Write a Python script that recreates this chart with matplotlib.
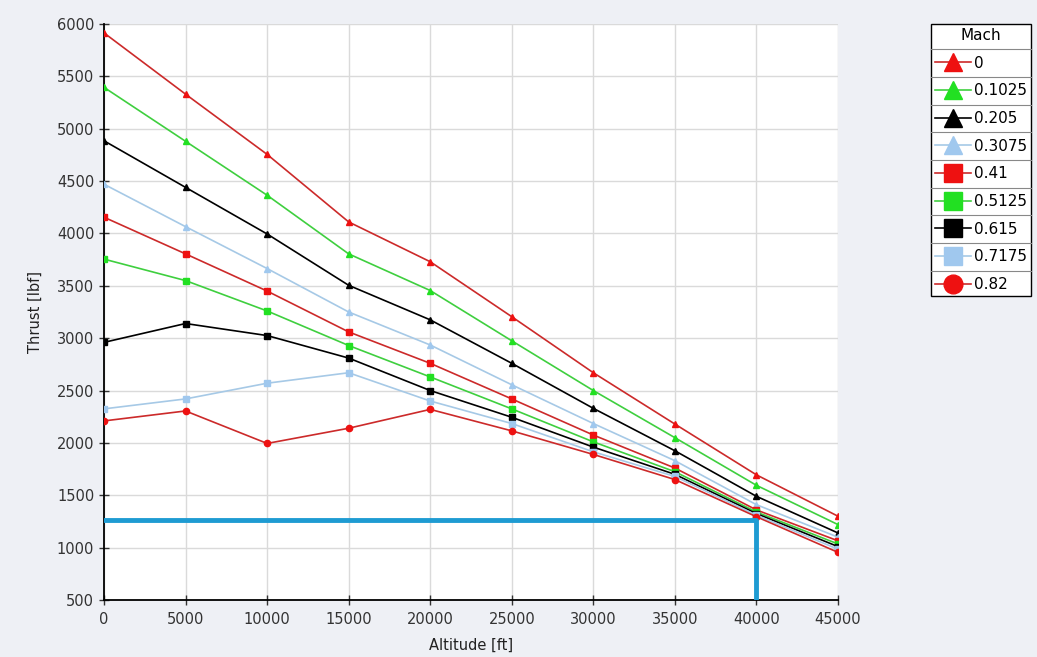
import matplotlib
matplotlib.use('Agg')
import matplotlib.pyplot as plt
from matplotlib.lines import Line2D

# altitude [ft]
altitude = [0, 5000, 10000, 15000, 20000, 25000, 30000, 35000, 40000, 45000]

# thrust [lbf] per Mach number
mach_0 = [5915, 5330, 4755, 4110, 3730, 3205, 2670, 2180, 1695, 1300]
mach_01025 = [5395, 4880, 4365, 3805, 3455, 2975, 2500, 2050, 1595, 1220]
mach_0205 = [4885, 4440, 3995, 3505, 3175, 2760, 2330, 1925, 1490, 1140]
mach_03075 = [4470, 4065, 3665, 3250, 2935, 2555, 2185, 1830, 1410, 1100]
mach_041 = [4155, 3805, 3450, 3060, 2760, 2420, 2075, 1760, 1360, 1065]
mach_05125 = [3755, 3550, 3260, 2930, 2630, 2325, 2010, 1725, 1340, 1035]
mach_0615 = [2960, 3140, 3025, 2810, 2500, 2245, 1960, 1700, 1325, 1010]
mach_07175 = [2325, 2420, 2570, 2670, 2400, 2185, 1915, 1680, 1310, 985]
mach_082 = [2210, 2305, 1995, 2140, 2320, 2115, 1890, 1650, 1295, 955]

mach_labels = ['0', '0.1025', '0.205', '0.3075', '0.41', '0.5125', '0.615', '0.7175', '0.82']

# operating point marked with the blue lines
op_alt = 40000
op_thrust = 1265

series = [mach_0, mach_01025, mach_0205, mach_03075, mach_041,
          mach_05125, mach_0615, mach_07175, mach_082]
line_colors = ['#cc2a2a', '#3fcf3f', '#000000', '#a6c9e6', '#cc2a2a',
               '#3fcf3f', '#000000', '#a6c9e6', '#cc2a2a']
marker_colors = ['#ee1111', '#22e022', '#000000', '#a0c8ee', '#ee1111',
                 '#22e022', '#000000', '#a0c8ee', '#ee1111']
markers = ['^', '^', '^', '^', 's', 's', 's', 's', 'o']

fig = plt.figure(figsize=(10.37, 6.57), dpi=100)
fig.patch.set_facecolor('#eef0f5')
ax = fig.add_axes([104 / 1037, 1 - 600 / 657, (838 - 104) / 1037, (600 - 24) / 657])
ax.set_facecolor('white')

for vals, lc, mc, mk, lab in zip(series, line_colors, marker_colors, markers, mach_labels):
    ax.plot(altitude, vals, color=lc, lw=1.2, marker=mk, markersize=4.5,
            markerfacecolor=mc, markeredgecolor=mc, label=lab, zorder=3)

ax.plot([0, op_alt, op_alt], [op_thrust, op_thrust, 500], color='#1e9bd2', lw=3.5, zorder=4)

ax.set_xlim(0, 45000)
ax.set_ylim(500, 6000)
ax.set_xticks(range(0, 45001, 5000))
ax.set_yticks(range(500, 6001, 500))
ax.grid(True, color='#dadada', lw=1)
ax.set_axisbelow(True)
for s in ['top', 'right']:
    ax.spines[s].set_visible(False)
for s in ['left', 'bottom']:
    ax.spines[s].set_color('black')
    ax.spines[s].set_linewidth(1.3)
ax.tick_params(direction='inout', length=7, width=1, labelsize=10.5,
               labelcolor='#333333', color='#333333')
ax.tick_params(axis='x', pad=5)
ax.set_xlabel('Altitude [ft]', fontsize=10.5, color='#222222', labelpad=8)
ax.set_ylabel('Thrust [lbf]', fontsize=10.5, color='#222222', labelpad=10)

leg = fig.legend(loc='upper left', bbox_to_anchor=(931 / 1037, 1 - 24 / 657),
                 borderaxespad=0, title='Mach', fontsize=11, title_fontsize=11,
                 markerscale=3, handlelength=2.4, handletextpad=0.15,
                 labelspacing=0.83, borderpad=0.25, frameon=True, fancybox=False,
                 edgecolor='black', facecolor='white', framealpha=1)
leg.get_frame().set_linewidth(1.0)

# row separators in the legend
fig.canvas.draw()
r = fig.canvas.get_renderer()
lb = leg.get_window_extent(r)
boxes = [leg.get_title().get_window_extent(r)] + [t.get_window_extent(r) for t in leg.get_texts()]
for a, b in zip(boxes[:-1], boxes[1:]):
    ymid = (a.y0 + b.y1) / 2 / fig.bbox.height
    fig.add_artist(Line2D([lb.x0 / fig.bbox.width, lb.x1 / fig.bbox.width], [ymid, ymid],
                          color='#888888', lw=0.8, zorder=10))

fig.savefig('out.png', dpi=100, facecolor=fig.get_facecolor())
